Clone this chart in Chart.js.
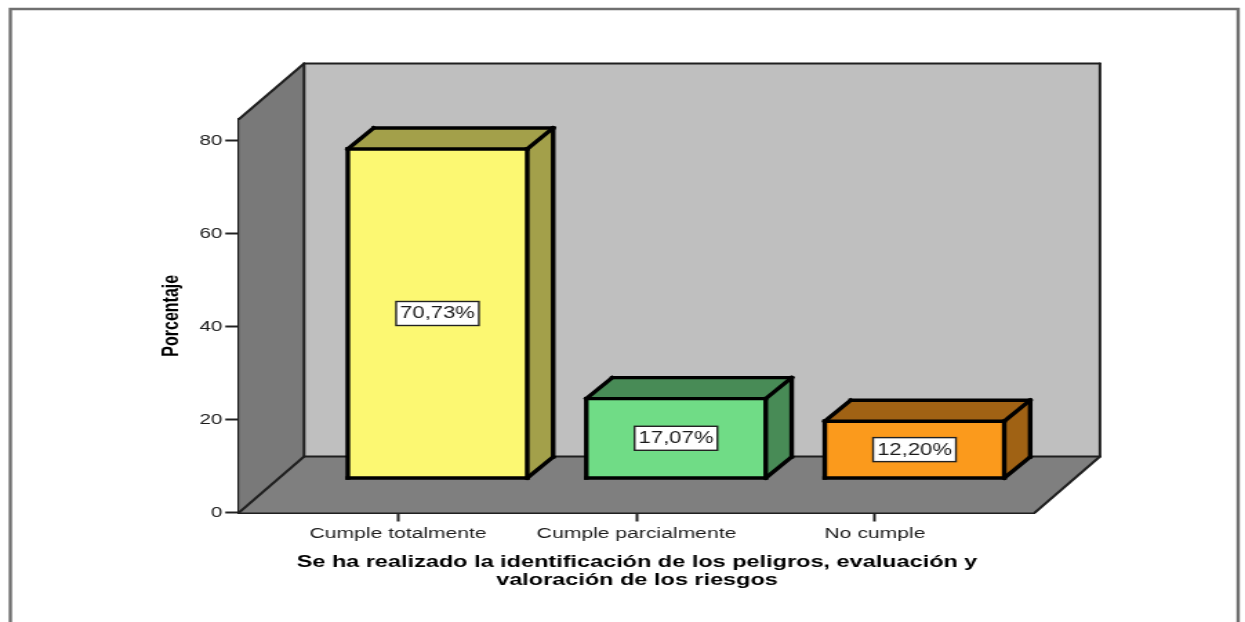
<!DOCTYPE html>
<html lang="es">
<head>
<meta charset="utf-8">
<title>Identificación de los peligros</title>
<script src="https://cdn.jsdelivr.net/npm/chart.js@4"></script>
<style>
    html, body { margin: 0; padding: 0; background: #fff; overflow: hidden; }
    /* The plot is laid out on a narrow canvas and widened to the full page */
    #chart { display: block; transform-origin: 0 0; transform: scaleX(1.3803); }
</style>
</head>
<body>
<canvas id="chart" width="902" height="622"></canvas>
<script>
const categories = ['Cumple totalmente', 'Cumple parcialmente', 'No cumple'];
const percentages = [70.73, 17.07, 12.20];
const yTicks = [0, 20, 40, 60, 80];
const frontColors = ['#fcf872', '#70dc86', '#fb9a1c'];
const sideColors = ['#a3a04a', '#488b56', '#a06214'];
const xTitle = ['Se ha realizado la identificación de los peligros, evaluación y', 'valoración de los riesgos'];
const yTitle = 'Porcentaje';

// Depth of the room and of the bars, in canvas pixels
const roomDepth = { x: 47.1, y: 56 };
const barDepth = { x: 18.8, y: 21 };

function segment(ctx, x1, y1, x2, y2) {
    ctx.beginPath();
    ctx.moveTo(x1, y1);
    ctx.lineTo(x2, y2);
    ctx.stroke();
}

function polygon(ctx, points, color) {
    ctx.beginPath();
    points.forEach(([x, y], i) => (i ? ctx.lineTo(x, y) : ctx.moveTo(x, y)));
    ctx.closePath();
    ctx.fillStyle = color;
    ctx.fill();
}

// Page frame, walls and floor behind the bars
const roomPlugin = {
    id: 'room',
    beforeDatasetsDraw(chart) {
        const { ctx, chartArea: { left, right, top, bottom } } = chart;
        const dx = roomDepth.x;
        const dy = roomDepth.y;
        const backTop = 63.5;
        ctx.save();

        ctx.strokeStyle = '#707070';
        ctx.lineWidth = 2.4;
        ctx.beginPath();
        ctx.moveTo(7.5, 622);
        ctx.lineTo(7.5, 9);
        ctx.lineTo(897, 9);
        ctx.lineTo(897, 622);
        ctx.stroke();

        polygon(ctx, [[left + dx, backTop], [right + dx, backTop], [right + dx, bottom - dy], [left + dx, bottom - dy]], '#bfbfbf');
        polygon(ctx, [[left, bottom], [left + dx, bottom - dy], [left + dx, backTop], [left, top]], '#797979');
        polygon(ctx, [[left, bottom], [right, bottom], [right + dx, bottom - dy], [left + dx, bottom - dy]], '#7f7f7f');

        ctx.strokeStyle = '#1f1f1f';
        ctx.lineWidth = 2;
        ctx.lineCap = 'round';
        segment(ctx, left, top, left + dx, backTop);
        segment(ctx, left + dx, backTop, right + dx, backTop);
        segment(ctx, right + dx, backTop, right + dx, bottom - dy);
        segment(ctx, left + dx, backTop, left + dx, bottom - dy);
        segment(ctx, left + dx, bottom - dy, right + dx, bottom - dy);
        segment(ctx, left, bottom, left + dx, bottom - dy);
        segment(ctx, right, bottom, right + dx, bottom - dy);
        ctx.restore();
    }
};

// Top and side faces, black outlines and value boxes of the bars
const barFacesPlugin = {
    id: 'barFaces',
    afterDatasetsDraw(chart) {
        const { ctx } = chart;
        const dx = barDepth.x;
        const dy = barDepth.y;
        ctx.save();
        chart.getDatasetMeta(0).data.forEach((bar, i) => {
            const x1 = bar.x - bar.width / 2;
            const x2 = bar.x + bar.width / 2;
            const y1 = bar.y;
            const y2 = bar.base;

            polygon(ctx, [[x1, y1], [x2, y1], [x2 + dx, y1 - dy], [x1 + dx, y1 - dy]], sideColors[i]);
            polygon(ctx, [[x2, y1], [x2 + dx, y1 - dy], [x2 + dx, y2 - dy], [x2, y2]], sideColors[i]);

            ctx.strokeStyle = '#000';
            ctx.lineWidth = 3.4;
            ctx.lineCap = 'square';
            segment(ctx, x1, y1, x2, y1);
            segment(ctx, x1, y2, x2, y2);
            segment(ctx, x1, y1, x1, y2);
            segment(ctx, x2, y1, x2, y2);
            segment(ctx, x1, y1, x1 + dx, y1 - dy);
            segment(ctx, x2, y1, x2 + dx, y1 - dy);
            segment(ctx, x2, y2, x2 + dx, y2 - dy);
            segment(ctx, x1 + dx, y1 - dy, x2 + dx, y1 - dy);
            segment(ctx, x2 + dx, y1 - dy, x2 + dx, y2 - dy);

            const label = percentages[i].toFixed(2).replace('.', ',') + '%';
            const cy = (y1 + y2) / 2;
            ctx.fillStyle = '#fff';
            ctx.fillRect(bar.x - 30, cy - 12, 60, 24);
            ctx.strokeStyle = '#222';
            ctx.lineWidth = 1.4;
            ctx.strokeRect(bar.x - 30, cy - 12, 60, 24);
            ctx.fillStyle = '#1a1a1a';
            ctx.font = '16px "Liberation Sans"';
            ctx.textAlign = 'center';
            ctx.textBaseline = 'middle';
            ctx.fillText(label, bar.x, cy + 0.5);
        });
        ctx.restore();
    }
};

new Chart(document.getElementById('chart'), {
    type: 'bar',
    data: {
        datasets: [{
            data: percentages.map((value, i) => ({ x: i, y: value })),
            backgroundColor: frontColors,
            borderWidth: 0,
            barThickness: 130,
            xAxisID: 'xBar',
            yAxisID: 'yBar'
        }]
    },
    plugins: [roomPlugin, barFacesPlugin],
    options: {
        responsive: false,
        animation: false,
        devicePixelRatio: 1,
        layout: { padding: { left: 115, right: 152.2, top: 119, bottom: 32.5 } },
        plugins: { legend: { display: false }, tooltip: { enabled: false } },
        scales: {
            x: {
                type: 'linear',
                position: 'bottom',
                offset: false,
                min: -0.6667,
                max: 2.671,
                afterBuildTicks: scale => { scale.ticks = categories.map((_, i) => ({ value: i })); },
                afterFit: scale => { scale.height = 77; },
                border: { display: true, color: '#1f1f1f', width: 2 },
                grid: { offset: false, drawOnChartArea: false, drawTicks: true, tickLength: 9, tickWidth: 2, tickColor: '#222' },
                ticks: {
                    autoSkip: false,
                    maxRotation: 0,
                    padding: 3,
                    color: '#1a1a1a',
                    font: { family: '"Liberation Sans"', size: 15.3 },
                    callback: value => categories[value]
                },
                title: {
                    display: true,
                    text: xTitle,
                    color: '#000',
                    padding: 0,
                    font: { family: '"Liberation Sans"', size: 17, weight: 'bold', lineHeight: 1.06 }
                }
            },
            y: {
                type: 'linear',
                position: 'left',
                min: 0,
                max: 84.6,
                afterBuildTicks: scale => { scale.ticks = yTicks.map(value => ({ value })); },
                afterFit: scale => { scale.width = 58.2; },
                border: { display: true, color: '#1f1f1f', width: 2 },
                grid: { drawOnChartArea: false, drawTicks: true, tickLength: 10, tickWidth: 2, tickColor: '#222' },
                ticks: {
                    padding: 2,
                    color: '#1a1a1a',
                    font: { family: '"Liberation Sans"', size: 15 }
                },
                title: {
                    display: true,
                    text: yTitle,
                    color: '#000',
                    padding: 0,
                    font: { family: '"Liberation Sans"', size: 16, weight: 'bold' }
                }
            },
            // Bars stand on the middle of the floor, so they get their own shifted scales
            xBar: { type: 'linear', display: false, position: 'bottom', offset: false, min: -0.832, max: 2.505 },
            yBar: { type: 'linear', display: false, position: 'left', min: -7.42, max: 77.18 }
        }
    }
});
</script>
</body>
</html>
